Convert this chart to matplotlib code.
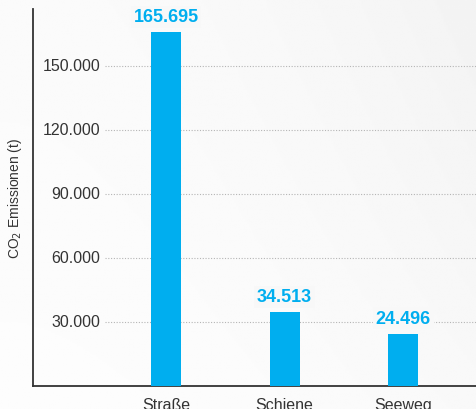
import numpy as np
import matplotlib
matplotlib.use("Agg")
import matplotlib.pyplot as plt
import matplotlib.transforms as mtransforms

categories = ["Straße", "Schiene", "Seeweg"]
values = [165695, 34513, 24496]
value_labels = ["165.695", "34.513", "24.496"]
yticks = [30000, 60000, 90000, 120000, 150000]
ytick_labels = ["30.000", "60.000", "90.000", "120.000", "150.000"]

blue = "#00aeef"
dark = "#333333"
bg = "#f9f9f9"

plt.rcParams["font.family"] = ["Liberation Sans", "DejaVu Sans"]

fig = plt.figure(figsize=(4.77, 4.10), dpi=100)
fig.patch.set_facecolor(bg)

# very soft gradient background, slightly darker towards the top right
grad = np.linspace(0, 1, 256)
xx, yy = np.meshgrid(grad, grad)
g = 0.99 - 0.03 * xx**2 * (1 - 0.5 * yy) - 0.008 * (1 - yy)
bgax = fig.add_axes([0, 0, 1, 1], zorder=-10)
bgax.imshow(g, cmap="gray", vmin=0, vmax=1, aspect="auto", extent=[0, 1, 0, 1])
bgax.axis("off")

ax = fig.add_axes([33/477, 23/410, 1 - 33/477, 377/410])
ax.set_facecolor("none")

x = np.arange(len(categories))
ax.bar(x, values, width=0.253, color=blue, zorder=3)

ax.set_xlim(-1.12, 2.62)
ax.set_ylim(0, 176700)

# gridlines and tick labels drawn inside the axes
trans = mtransforms.blended_transform_factory(ax.transAxes, ax.transData)
for v, lab in zip(yticks, ytick_labels):
    ax.axhline(v, xmin=0.162, xmax=1, color="#b5b5b5", lw=0.8, ls=(0, (1, 1.5)), zorder=1)
    ax.text(0.151, v, lab, transform=trans, ha="right", va="center",
            fontsize=11.5, color=dark)
ax.set_yticks([])

for xi, v, lab in zip(x, values, value_labels):
    ax.annotate(lab, (xi, v), xytext=(0, 7), textcoords="offset pixels",
                ha="center", va="bottom", fontsize=13, fontweight="bold", color=blue,
                bbox=dict(boxstyle="square,pad=0.15", fc="#f8f8f8", ec="none"), zorder=4)

ax.set_xticks(x)
ax.set_xticklabels(categories, fontsize=11.5, color=dark)
ax.tick_params(axis="x", length=0, pad=8)

for s in ["top", "right"]:
    ax.spines[s].set_visible(False)
ax.spines["left"].set_color(dark)
ax.spines["bottom"].set_color(dark)
ax.spines["left"].set_linewidth(1.3)
ax.spines["bottom"].set_linewidth(1.3)

fig.text(15/477, 1 - 198/410, "CO$_2$ Emissionen (t)", rotation=90,
         ha="center", va="center", fontsize=10, color=dark)

fig.savefig("out.png", dpi=100, facecolor=fig.get_facecolor())
